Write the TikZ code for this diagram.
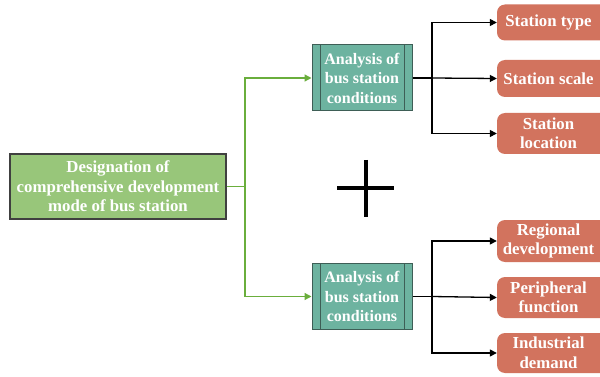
\documentclass[tikz,border=0pt]{standalone}
\usepackage{fontspec}
\setmainfont{Liberation Serif}
\usetikzlibrary{arrows.meta}
\definecolor{gfill}{HTML}{98C67A}
\definecolor{gline}{HTML}{6AAE3C}
\definecolor{tfill}{HTML}{6DB3A0}
\definecolor{tline}{HTML}{3E5E56}
\definecolor{ofill}{HTML}{D2735E}
\tikzset{
  txt/.style={text=white,font=\fontsize{16.8}{19.5}\selectfont\bfseries,align=center,inner sep=0pt},
  mainbox/.style={txt,draw=black!75,line width=1.2pt,fill=gfill,minimum width=216pt,minimum height=65pt},
  anbox/.style={txt,font=\fontsize{16}{19.5}\selectfont\bfseries,draw=tline,line width=1pt,fill=tfill,minimum width=100pt,minimum height=66pt},
  obox/.style={txt,minimum width=103pt},
  gconn/.style={draw=gline,line width=1.3pt},
  gar/.style={gconn,-{Triangle[length=7pt,width=7pt]}},
  bconn/.style={draw=black,line width=1.3pt},
  bar/.style={bconn,-{Triangle[length=7pt,width=7pt]}},
}
\begin{document}
\begin{tikzpicture}[x=1pt,y=-1pt]
\clip (0,0) rectangle (600,377);
\fill[white] (0,0) rectangle (600,377);
% main
\node[mainbox] (main) at (118,186.5) {Designation of\\comprehensive development\\mode of bus station};
% analysis boxes
\node[anbox] (a1) at (362,78) {Analysis of\\bus station\\conditions};
\draw[tline,line width=1pt] ([xshift=9pt]a1.north west) -- ([xshift=9pt]a1.south west)
  ([xshift=-8pt]a1.north east) -- ([xshift=-8pt]a1.south east);
\node[anbox] (a2) at (362,296.5) {Analysis of\\bus station\\conditions};
\draw[tline,line width=1pt] ([xshift=9pt]a2.north west) -- ([xshift=9pt]a2.south west)
  ([xshift=-8pt]a2.north east) -- ([xshift=-8pt]a2.south east);
% orange boxes
\foreach \n/\y/\h/\t in {o1/22.5/36/{Station type},o2/78.5/37/{Station scale},o3/133.5/41/{Station\\location},
  o4/241/42/{Regional\\development},o5/297.5/41/{Peripheral\\function},o6/353/40/{Industrial\\demand}}{
  \fill[ofill,rounded corners=8pt] (497,\y-\h/2) rectangle (620,\y+\h/2);
  \node[obox] (\n) at (548.5,\y) {\t};
}
% green connectors
\coordinate (gs) at (245,186.5);
\draw[gconn] (main.east) -- (gs);
\draw[gar] (gs) |- (a1.west);
\draw[gar] (gs) |- (a2.west);
% black connectors top
\coordinate (b1) at (432,78);
\draw[bconn] (a1.east) -- (b1);
\draw[bar] (b1) |- (o1.west);
\draw[bar] (b1) -- (o2.west);
\draw[bar] (b1) |- (o3.west);
% black connectors bottom
\coordinate (b2) at (432,296.5);
\draw[bconn] (a2.east) -- (b2);
\draw[bar] (b2) |- (o4.west);
\draw[bar] (b2) -- (o5.west);
\draw[bar] (b2) |- (o6.west);
% plus
\draw[line width=4pt] (337,188) -- (394,188) (365.5,160) -- (365.5,217);
\end{tikzpicture}
\end{document}
